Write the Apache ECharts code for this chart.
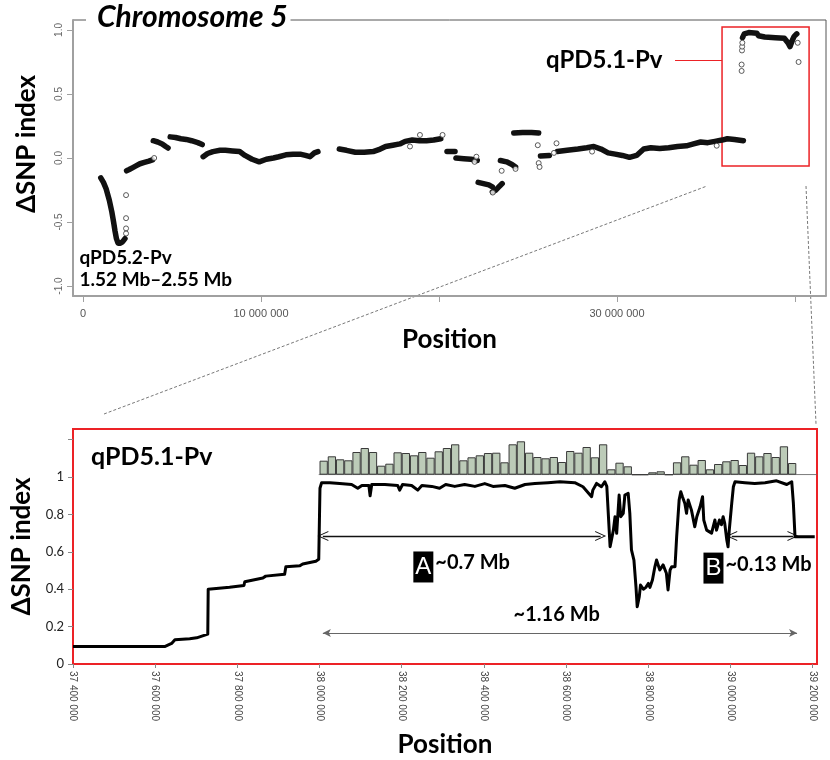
<!DOCTYPE html>
<html><head><meta charset="utf-8">
<script src="https://cdn.jsdelivr.net/npm/echarts@6/dist/echarts.min.js"></script>
<style>html,body{margin:0;padding:0;background:#fff}#c{width:830px;height:760px}</style>
</head><body><div id="c"></div>
<script>
// ---------- Top panel: chromosome 5 ΔSNP index (position in Mb) ----------
const chr5SegA = [[1.00,-0.155],[1.15,-0.19],[1.30,-0.24],[1.48,-0.33],[1.62,-0.42],[1.72,-0.50],[1.80,-0.57],[1.88,-0.63],[1.97,-0.665],[2.10,-0.665],[2.22,-0.655],[2.36,-0.63]];
const chr5SegB = [[2.45,-0.10],[2.60,-0.09],[2.80,-0.075],[3.00,-0.06],[3.20,-0.045],[3.45,-0.035],[3.70,-0.025],[3.90,-0.015]];
const chr5SegC = [[3.95,0.135],[4.20,0.125],[4.45,0.11],[4.65,0.09],[4.78,0.078]];
const chr5SegD = [[4.90,0.165],[5.20,0.16],[5.50,0.15],[5.80,0.145],[6.10,0.135],[6.45,0.12],[6.70,0.105]];
const chr5SegE = [[6.75,0.01],[7.0,0.035],[7.3,0.05],[7.7,0.06],[8.0,0.06],[8.4,0.055],[8.8,0.05],[9.1,0.02],[9.5,-0.01],[9.9,-0.03],[10.3,-0.01],[10.7,0.0],[11.0,0.01],[11.4,0.025],[11.8,0.03],[12.2,0.03],[12.5,0.02],[12.75,0.01],[13.0,0.04],[13.2,0.05]];
const chr5SegF = [[14.4,0.07],[14.8,0.06],[15.3,0.045],[15.8,0.045],[16.3,0.05],[16.7,0.07],[17.0,0.09],[17.4,0.10],[17.8,0.11],[18.1,0.13],[18.5,0.14],[18.9,0.135],[19.3,0.135],[19.7,0.14],[20.1,0.15]];
const chr5SegG = [[20.45,0.05],[20.9,0.05]];
const chr5SegH = [[20.95,0.0],[21.4,-0.005],[21.8,-0.01],[22.15,-0.02]];
const chr5SegI = [[22.2,-0.19],[22.5,-0.20],[22.8,-0.21],[23.0,-0.225]];
const chr5SegJ = [[23.0,-0.265],[23.2,-0.25],[23.4,-0.22],[23.55,-0.20]];
const chr5SegK = [[23.45,-0.02],[23.8,-0.03],[24.1,-0.05],[24.3,-0.07]];
const chr5SegL = [[24.2,0.195],[24.7,0.2],[25.2,0.2],[25.6,0.195]];
const chr5SegM = [[25.7,0.015],[26.2,0.02]];
const chr5SegN = [[26.65,0.05],[27.2,0.06],[27.8,0.07],[28.3,0.08],[28.7,0.09],[29.1,0.07],[29.5,0.04],[29.9,0.03],[30.3,0.02],[30.7,0.005],[31.1,0.02],[31.5,0.07],[31.9,0.08],[32.4,0.075],[32.9,0.08],[33.4,0.09],[33.9,0.095],[34.3,0.11],[34.7,0.125],[35.1,0.12],[35.5,0.13],[35.9,0.14],[36.2,0.15],[36.6,0.145],[37.1,0.135]];
const chr5SegO = [[37.05,0.94],[37.15,0.97],[37.4,0.98],[37.85,0.975],[37.95,0.955],[38.3,0.945],[38.9,0.94],[39.4,0.935],[39.6,0.90],[39.72,0.87],[39.85,0.92],[39.95,0.95],[40.1,0.97]];
const chr5Outliers = [[2.42,-0.29],[2.42,-0.47],[2.42,-0.55],[2.42,-0.59],[4.0,0.0],[18.37,0.09],[18.93,0.18],[20.2,0.18],[22.0,-0.03],[22.1,0.01],[23.02,-0.27],[23.52,-0.10],[24.3,-0.085],[25.55,0.10],[25.6,-0.04],[25.65,-0.07],[26.46,0.04],[26.6,0.115],[28.6,0.05],[35.6,0.096],[37.0,0.68],[37.0,0.73],[37.02,0.84],[37.03,0.87],[37.04,0.90],[40.15,0.90],[40.2,0.75]];
const chr5TickMb = [0,10,20,30,40];
const chr5LabelMb = [0,10,30];
const chr5YTicks = [-1,-0.5,0,0.5,1];

// ---------- Bottom panel: qPD5.1-Pv region (position in kb) ----------
const regionLine = [[37400,0.093],[37623,0.093],[37640,0.11],[37648,0.13],[37684,0.135],[37701,0.14],[37703,0.15],[37728,0.16],[37729,0.40],[37781,0.41],[37816,0.42],[37818,0.44],[37862,0.46],[37869,0.47],[37915,0.48],[37918,0.52],[37952,0.525],[37959,0.535],[37991,0.55],[37998,0.56],[38001,0.94],[38005,0.97],
[38025,0.97],[38049,0.965],[38078,0.96],[38093,0.94],[38103,0.955],[38120,0.955],[38123,0.90],[38127,0.96],[38159,0.96],[38190,0.955],[38195,0.93],[38202,0.96],[38224,0.955],[38239,0.93],[38249,0.955],[38273,0.95],[38292,0.94],[38307,0.96],[38329,0.95],[38353,0.96],[38378,0.95],[38402,0.965],[38422,0.95],[38451,0.955],[38475,0.94],[38500,0.96],[38524,0.965],[38556,0.97],[38585,0.975],[38621,0.97],[38641,0.948],[38662,0.895],[38665,0.93],[38674,0.966],[38686,0.948],[38694,0.975],[38699,0.95],[38707,0.627],[38711,0.62],[38715,0.716],[38719,0.788],[38723,0.699],[38729,0.904],[38733,0.788],[38739,0.806],[38743,0.904],[38751,0.913],[38755,0.806],[38759,0.61],[38765,0.556],[38770,0.413],[38773,0.306],[38778,0.36],[38781,0.422],[38788,0.40],[38794,0.41],[38800,0.431],[38804,0.41],[38810,0.449],[38816,0.52],[38820,0.556],[38828,0.503],[38836,0.53],[38844,0.485],[38848,0.396],[38853,0.503],[38857,0.52],[38865,0.52],[38869,0.681],[38875,0.877],[38879,0.921],[38883,0.895],[38889,0.859],[38893,0.806],[38897,0.877],[38905,0.823],[38913,0.734],[38918,0.788],[38926,0.841],[38932,0.895],[38935,0.77],[38942,0.716],[38946,0.72],[38954,0.70],[38962,0.77],[38966,0.716],[38973,0.77],[38978,0.745],[38982,0.788],[38986,0.752],[38991,0.663],[38994,0.627],[38997,0.716],[39003,0.859],[39007,0.948],[39011,0.975],[39035,0.97],[39059,0.965],[39084,0.97],[39112,0.98],[39137,0.96],[39149,0.975],[39153,0.86],[39157,0.68],[39205,0.68]];
const binCentersKb = [38010,38030,38050,38070,38090,38110,38130,38150,38170,38190,38210,38230,38250,38270,38290,38310,38330,38350,38370,38390,38410,38430,38450,38470,38490,38510,38530,38550,38570,38590,38610,38630,38650,38670,38690,38710,38730,38750,38770,38790,38810,38830,38850,38870,38890,38910,38930,38950,38970,38990,39010,39030,39050,39070,39090,39110,39130,39150];
const binHeights = [14,18.4,15.4,14.4,22.7,26.7,22.7,9,11,22.4,21.7,19.4,22.7,17,23.4,26.7,30.4,14.4,17.4,19.4,21.7,22,12.4,30.4,33.4,22,17.7,16.4,17.7,12.7,23.7,22,27.7,17.4,30.4,5.4,12,8.4,0,0,2.4,3.4,0,12.4,18.4,10,14.7,5.4,10.7,13.4,14.7,9.7,22,18.4,21.7,17.7,28.4,11.7];
const regionTicksKb = [37400,37600,37800,38000,38200,38400,38600,38800,39000,39200];
const regionYTicks = [0,0.2,0.4,0.6,0.8,1,1.2];
const regionYLabels = [0,0.2,0.4,0.6,0.8,1];
const spanA = [[38008,0.684],[38684,0.684]];
const spanB = [[39003,0.684],[39152,0.684]];
const spanAll = [[38008,0.166],[39162,0.166]];

const FONT = 'Lato, "Open Sans", sans-serif';
const RED = '#ec2226';
const fmtSp = n => String(Math.round(n)).replace(/\B(?=(\d{3})+(?!\d))/g, ' ');
const vArrow = 'path://M0,0 L6,11 L4.8,11 L0,2.2 L-4.8,11 L-6,11 Z';

const chart = echarts.init(document.getElementById('c'));
const segs = [chr5SegA,chr5SegB,chr5SegC,chr5SegD,chr5SegE,chr5SegF,chr5SegG,chr5SegH,chr5SegI,chr5SegJ,chr5SegK,chr5SegL,chr5SegM,chr5SegN,chr5SegO];
const segSeries = segs.map(s => ({
  type:'line', xAxisIndex:0, yAxisIndex:0, data:s, showSymbol:false, silent:true,
  lineStyle:{color:'#111', width:5.5, cap:'round', join:'round'}, z:3
}));
const labelBoxRich = {
  b:{backgroundColor:'#000', color:'#fff', fontFamily:'Liberation Sans', fontSize:24, width:20, height:31, lineHeight:31, align:'center'},
  t:{fontFamily:FONT, fontWeight:'bold', fontSize:20, color:'#000', padding:[0,0,8,2]}
};

const option = {
  animation:false,
  backgroundColor:'#fff',
  title:[
    {text:'Chromosome 5', left:86, top:1, padding:[1,3,1,11], backgroundColor:'#fff',
     textStyle:{fontFamily:FONT, fontStyle:'italic', fontWeight:'bold', fontSize:30, color:'#000'}},
    {text:'qPD5.1-Pv', left:91, top:444, padding:0,
     textStyle:{fontFamily:FONT, fontWeight:'bold', fontSize:25, color:'#000'}}
  ],
  grid:[
    {left:73, right:4, top:20, bottom:464, show:true, borderColor:'#555', borderWidth:1},
    {left:73, right:13, top:429, bottom:96, show:true, borderColor:RED, borderWidth:2},
    {left:73, right:13, top:434.7, bottom:285.3}
  ],
  xAxis:[
    {gridIndex:0, type:'value', min:-0.56, max:41.74,
     axisLine:{show:true, onZero:false, lineStyle:{color:'#a0a0a0', width:2}},
     axisTick:{show:true, length:6, customValues:chr5TickMb, lineStyle:{color:'#a0a0a0'}},
     axisLabel:{customValues:chr5LabelMb, formatter:v=>fmtSp(v*1e6), color:'#555', fontSize:11, fontFamily:'Liberation Sans', margin:12},
     splitLine:{show:false},
     name:'Position', nameLocation:'middle', nameGap:31,
     nameTextStyle:{fontFamily:FONT, fontWeight:'bold', fontSize:26, color:'#000'}},
    {gridIndex:1, type:'value', min:37400, max:39210.5,
     axisLine:{show:false, onZero:false},
     axisTick:{show:true, length:4, customValues:regionTicksKb, lineStyle:{color:'#888'}},
     axisLabel:{customValues:regionTicksKb, rotate:-90, formatter:v=>fmtSp(v*1000), color:'#444', fontSize:10, fontFamily:'Liberation Sans', margin:7},
     splitLine:{show:false},
     name:'Position', nameLocation:'middle', nameGap:68,
     nameTextStyle:{fontFamily:FONT, fontWeight:'bold', fontSize:26, color:'#000'}},
    {gridIndex:2, type:'value', min:37400, max:39210.5, show:false, splitLine:{show:false}}
  ],
  yAxis:[
    {gridIndex:0, type:'value', min:-1.078, max:1.078,
     axisLine:{show:true, onZero:false, lineStyle:{color:'#a0a0a0', width:2}},
     axisTick:{show:true, length:6, customValues:chr5YTicks, lineStyle:{color:'#a0a0a0'}},
     axisLabel:{customValues:chr5YTicks, rotate:90, formatter:v=>v.toFixed(1), color:'#666', fontSize:10, fontFamily:'Liberation Sans', margin:9},
     splitLine:{show:false},
     name:'ΔSNP index', nameLocation:'middle', nameRotate:90, nameGap:33,
     nameTextStyle:{fontFamily:FONT, fontWeight:'bold', fontSize:26, color:'#000', padding:[0,0,0,28]}},
    {gridIndex:1, type:'value', min:0, max:1.257,
     axisLine:{show:false},
     axisTick:{show:true, length:5, customValues:regionYTicks, lineStyle:{color:'#888'}},
     axisLabel:{customValues:regionYLabels, formatter:v=>String(+v.toFixed(1)), color:'#222', fontSize:13, fontFamily:FONT, margin:9},
     splitLine:{show:false},
     name:'ΔSNP index', nameLocation:'middle', nameRotate:90, nameGap:30,
     nameTextStyle:{fontFamily:FONT, fontWeight:'bold', fontSize:26, color:'#000'}},
    {gridIndex:2, type:'value', min:0, max:40, show:false, splitLine:{show:false}}
  ],
  graphic:[
    {type:'line', silent:true, shape:{x1:104, y1:414, x2:707, y2:186}, style:{stroke:'#555', lineWidth:0.8, lineDash:[3,2]}},
    {type:'line', silent:true, shape:{x1:806, y1:186, x2:816, y2:424}, style:{stroke:'#555', lineWidth:0.8, lineDash:[3,2]}}
  ],
  series:[
    ...segSeries,
    {type:'scatter', xAxisIndex:0, yAxisIndex:0, data:chr5Outliers, symbol:'circle', symbolSize:5, silent:true, z:4,
     itemStyle:{color:'#fff', borderColor:'#333', borderWidth:1},
     markArea:{silent:true, itemStyle:{color:'rgba(0,0,0,0)', borderColor:RED, borderWidth:1.5},
       data:[[{coord:[35.9,1.023]},{coord:[40.79,-0.0625]}]]},
     markLine:{silent:true, symbol:'none', label:{show:false}, lineStyle:{color:RED, width:1, type:'solid'},
       data:[[{coord:[33.26,0.766]},{coord:[35.9,0.766]}]]},
     markPoint:{silent:true, symbol:'circle', symbolSize:1, itemStyle:{color:'rgba(0,0,0,0)'},
       data:[
         {coord:[33.26,0.766], label:{show:true, position:'left', distance:12, formatter:'qPD5.1-Pv', fontFamily:FONT, fontWeight:'bold', fontSize:24, color:'#000'}},
         {coord:[-0.225,-0.863], label:{show:true, position:'right', distance:0, formatter:'qPD5.2-Pv\n1.52 Mb\u20132.55 Mb', align:'left', lineHeight:22, fontFamily:FONT, fontWeight:'bold', fontSize:19, color:'#000'}}
       ]}
    },
    {type:'line', xAxisIndex:2, yAxisIndex:2, data:[[37998,0],[39210.5,0]], showSymbol:false, silent:true,
     lineStyle:{color:'#666', width:1}, z:2},
    {type:'bar', xAxisIndex:2, yAxisIndex:2, data:binCentersKb.map((c,i)=>[c,binHeights[i]]), barWidth:8.3, silent:true,
     itemStyle:{color:'#bccbb8', borderColor:'#3a3a3a', borderWidth:1}, z:3},
    {type:'line', xAxisIndex:1, yAxisIndex:1, data:regionLine, showSymbol:false, silent:true,
     lineStyle:{color:'#000', width:3, join:'round'}, z:5,
     markLine:{silent:true, label:{show:false}, animation:false,
       data:[
         [{coord:spanA[0], symbol:vArrow, symbolSize:[10,11], lineStyle:{color:'#111', width:1.4, type:'solid'}},{coord:spanA[1], symbol:vArrow, symbolSize:[10,11]}],
         [{coord:spanB[0], symbol:vArrow, symbolSize:[10,11], lineStyle:{color:'#111', width:1.4, type:'solid'}},{coord:spanB[1], symbol:vArrow, symbolSize:[10,11]}],
         [{coord:spanAll[0], symbol:'arrow', symbolSize:[6,8], lineStyle:{color:'#666', width:1, type:'solid'}},{coord:spanAll[1], symbol:'arrow', symbolSize:[6,8]}]
       ]},
     markPoint:{silent:true, symbol:'circle', symbolSize:1, itemStyle:{color:'rgba(0,0,0,0)'},
       data:[
         {coord:[38227,0.519], label:{show:true, position:'right', distance:0, formatter:'{b|A}{t|~0.7 Mb}', rich:labelBoxRich}},
         {coord:[38933,0.513], label:{show:true, position:'right', distance:0, formatter:'{b|B}{t|~0.13 Mb}', rich:labelBoxRich}},
         {coord:[38577,0.262], label:{show:true, position:'inside', formatter:'~1.16 Mb', fontFamily:FONT, fontWeight:'bold', fontSize:20, color:'#000'}}
       ]}
    }
  ]
};
chart.setOption(option);
</script>
</body></html>
